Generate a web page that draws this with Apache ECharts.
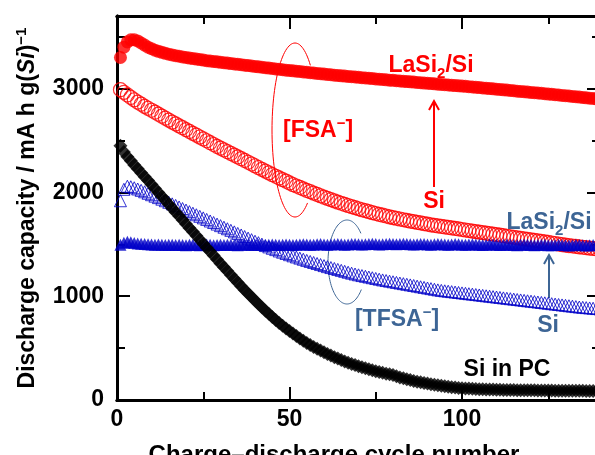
<!DOCTYPE html>
<html>
<head>
<meta charset="utf-8">
<script src="https://cdn.jsdelivr.net/npm/echarts@6/dist/echarts.min.js"></script>
<style>
  html, body { margin: 0; padding: 0; background: #fff; }
  #main { width: 595px; height: 455px; }
</style>
</head>
<body>
<div id="main"></div>
<script>
// capacity per cycle (cycle 1 .. 140), mA h g(Si)^-1
var lasiFSA = [
  3300, 3400, 3450, 3470, 3470, 3460, 3440, 3420, 3400, 3385,
  3370, 3360, 3350, 3340, 3332, 3325, 3318, 3312, 3306, 3300,
  3295, 3290, 3285, 3280, 3275, 3270, 3266, 3262, 3258, 3254,
  3250, 3246, 3242, 3238, 3234, 3230, 3226, 3222, 3218, 3214,
  3210, 3206, 3202, 3198, 3194, 3190, 3186, 3182, 3178, 3175,
  3172, 3168, 3165, 3161, 3158, 3154, 3151, 3147, 3144, 3140,
  3137, 3134, 3130, 3127, 3124, 3121, 3118, 3115, 3112, 3109,
  3106, 3103, 3100, 3097, 3094, 3091, 3088, 3085, 3082, 3080,
  3077, 3074, 3071, 3068, 3066, 3063, 3060, 3057, 3054, 3052,
  3049, 3046, 3043, 3041, 3038, 3035, 3032, 3030, 3027, 3025,
  3022, 3019, 3016, 3013, 3010, 3007, 3004, 3001, 2998, 2995,
  2992, 2989, 2986, 2983, 2980, 2976, 2973, 2970, 2967, 2964,
  2961, 2958, 2955, 2951, 2948, 2945, 2942, 2939, 2935, 2932,
  2929, 2925, 2922, 2919, 2915, 2912, 2908, 2905, 2901, 2898
];
var siFSA = [
  2990, 2965, 2940, 2915, 2893, 2871, 2850, 2830, 2811, 2792,
  2773, 2754, 2735, 2716, 2697, 2678, 2660, 2642, 2624, 2606,
  2588, 2570, 2552, 2534, 2516, 2498, 2480, 2462, 2444, 2427,
  2410, 2393, 2376, 2359, 2342, 2325, 2308, 2291, 2274, 2257,
  2240, 2223, 2206, 2189, 2172, 2156, 2140, 2124, 2108, 2092,
  2076, 2062, 2048, 2034, 2020, 2007, 1994, 1981, 1968, 1955,
  1943, 1931, 1919, 1907, 1896, 1885, 1874, 1863, 1853, 1843,
  1833, 1824, 1815, 1806, 1797, 1789, 1781, 1773, 1765, 1758,
  1751, 1744, 1737, 1730, 1724, 1718, 1712, 1706, 1700, 1694,
  1688, 1683, 1678, 1673, 1668, 1663, 1658, 1653, 1648, 1643,
  1638, 1633, 1628, 1623, 1618, 1613, 1608, 1603, 1598, 1593,
  1588, 1583, 1578, 1573, 1568, 1563, 1558, 1553, 1548, 1543,
  1538, 1533, 1528, 1523, 1518, 1513, 1508, 1503, 1498, 1493,
  1488, 1484, 1480, 1476, 1472, 1468, 1464, 1460, 1456, 1452
];
var lasiTFSA = [
  1495, 1515, 1525, 1520, 1512, 1508, 1505, 1503, 1500, 1498,
  1497, 1499, 1496, 1494, 1497, 1495, 1493, 1496, 1494, 1492,
  1495, 1497, 1493, 1491, 1494, 1498, 1495, 1492, 1494, 1496,
  1493, 1495, 1497, 1494, 1492, 1495, 1498, 1496, 1493, 1495,
  1497, 1494, 1492, 1496, 1499, 1497, 1494, 1496, 1498, 1495,
  1493, 1496, 1499, 1501, 1498, 1495, 1497, 1500, 1502, 1499,
  1496, 1498, 1501, 1503, 1500, 1497, 1499, 1502, 1504, 1501,
  1498, 1500, 1503, 1505, 1502, 1499, 1501, 1504, 1506, 1503,
  1500, 1502, 1505, 1503, 1500, 1498, 1501, 1504, 1502, 1499,
  1497, 1500, 1503, 1501, 1498, 1496, 1499, 1502, 1500, 1497,
  1495, 1498, 1501, 1499, 1496, 1494, 1497, 1500, 1498, 1495,
  1493, 1496, 1499, 1497, 1494, 1492, 1495, 1498, 1496, 1493,
  1491, 1494, 1497, 1495, 1492, 1490, 1493, 1496, 1494, 1491,
  1489, 1492, 1495, 1493, 1490, 1488, 1491, 1494, 1492, 1489
];
var siTFSA = [
  1920, 2030, 2060, 2055, 2045, 2033, 2020, 2006, 1992, 1978,
  1964, 1950, 1935, 1920, 1905, 1890, 1875, 1860, 1845, 1830,
  1815, 1800, 1785, 1770, 1755, 1740, 1725, 1710, 1695, 1680,
  1665, 1650, 1635, 1620, 1605, 1590, 1575, 1560, 1545, 1530,
  1516, 1502, 1488, 1475, 1462, 1449, 1436, 1424, 1412, 1400,
  1389, 1378, 1367, 1356, 1345, 1335, 1325, 1315, 1305, 1295,
  1285, 1276, 1267, 1258, 1249, 1240, 1231, 1222, 1214, 1206,
  1199, 1192, 1185, 1178, 1171, 1164, 1157, 1151, 1145, 1139,
  1133, 1127, 1121, 1115, 1109, 1103, 1097, 1091, 1085, 1079,
  1073, 1067, 1061, 1056, 1052, 1048, 1044, 1040, 1036, 1032,
  1028, 1024, 1020, 1016, 1012, 1008, 1004, 1000, 996, 992,
  988, 984, 980, 976, 972, 968, 964, 960, 956, 952,
  948, 944, 940, 936, 932, 928, 924, 920, 916, 912,
  908, 904, 900, 896, 893, 890, 887, 884, 881, 878
];
var siPC = [
  2450, 2390, 2345, 2305, 2265, 2228, 2190, 2152, 2114, 2076,
  2038, 2000, 1962, 1924, 1886, 1848, 1810, 1772, 1734, 1696,
  1658, 1620, 1582, 1544, 1506, 1468, 1430, 1392, 1354, 1316,
  1279, 1242, 1205, 1168, 1132, 1096, 1061, 1026, 992, 958,
  925, 893, 861, 830, 800, 771, 743, 716, 690, 665,
  640, 616, 593, 571, 550, 530, 511, 493, 476, 459,
  443, 428, 413, 399, 385, 372, 360, 348, 337, 326,
  316, 306, 296, 287, 278, 270, 262, 254, 247, 240,
  228, 218, 209, 200, 192, 184, 177, 170, 164, 158,
  152, 147, 142, 137, 132, 128, 124, 120, 116, 113,
  112, 110, 108, 106, 104, 103, 102, 101, 100, 99,
  98, 97, 97, 96, 96, 95, 95, 94, 94, 93,
  93, 92, 92, 91, 91, 91, 90, 90, 90, 89,
  89, 89, 88, 88, 88, 87, 87, 87, 86, 86
];

var xMax = 140;
var yMax = 3700;
var yTickLabels = [0, 1000, 2000, 3000];

var FONT = '"Liberation Sans", Arial, sans-serif';
var RED = '#ff0000';
var BLUE = '#0000c8';
var NOTE_BLUE = '#3d6595';

function pairs(arr) {
  return arr.map(function (v, i) { return [i + 1, v]; });
}

// open arc for the grouping ellipses (annotation, pixel space)
function arcPoints(cx, cy, rx, ry, a0, a1) {
  var pts = [];
  for (var a = a0; a <= a1; a += 3) {
    var t = a * Math.PI / 180;
    pts.push([cx + rx * Math.cos(t), cy + ry * Math.sin(t)]);
  }
  return pts;
}

function arrow(x, y1, y2, color) {
  return [
    { type: 'line', shape: { x1: x, y1: y1, x2: x, y2: y2 }, style: { stroke: color, lineWidth: 2 } },
    { type: 'polyline', shape: { points: [[x - 5, y2 + 9], [x, y2], [x + 5, y2 + 9]] }, style: { stroke: color, lineWidth: 2, fill: null } }
  ];
}

function note(x, y, text, color, align) {
  return {
    type: 'text', x: x, y: y,
    style: {
      text: text, fill: color, align: align || 'center', verticalAlign: 'middle',
      fontSize: 23, fontWeight: 'bold', fontFamily: FONT,
      rich: {
        a: { fontSize: 23, fontWeight: 'bold', fontFamily: FONT, fill: color, lineHeight: 24 },
        sub: { fontSize: 15, fontWeight: 'bold', fontFamily: FONT, fill: color, lineHeight: 15, padding: [16, 0, 0, 0] },
        sup: { fontSize: 15, fontWeight: 'bold', fontFamily: FONT, fill: color, lineHeight: 15, padding: [0, 0, 14, 0] }
      }
    }
  };
}

function xAx(pos, interval, len, labels) {
  return {
    type: 'value', position: pos, min: 0, max: xMax, interval: interval,
    axisLine: { show: true, onZero: false, lineStyle: { color: '#000', width: 3 } },
    axisTick: { inside: true, length: len, lineStyle: { color: '#000', width: 2 } },
    axisLabel: labels ? {
      show: true, color: '#000', fontSize: 23, fontWeight: 'bold', fontFamily: FONT, margin: 8,
      formatter: function (v) { return v % 50 === 0 && v < xMax ? v : ''; }
    } : { show: false },
    splitLine: { show: false }
  };
}

function yAx(pos, interval, len, labels) {
  return {
    type: 'value', position: pos, min: 0, max: yMax, interval: interval,
    axisLine: { show: true, onZero: false, lineStyle: { color: '#000', width: 3 } },
    axisTick: { inside: true, length: len, lineStyle: { color: '#000', width: 2 } },
    axisLabel: labels ? {
      show: true, color: '#000', fontSize: 23, fontWeight: 'bold', fontFamily: FONT, margin: 13,
      formatter: function (v) { return yTickLabels.indexOf(v) >= 0 ? v : ''; }
    } : { show: false },
    splitLine: { show: false }
  };
}

var myChart = echarts.init(document.getElementById('main'), null, { renderer: 'canvas' });

var xMain = xAx('bottom', 50, 13, true);
xMain.name = 'Charge\u2013discharge cycle number';
xMain.nameLocation = 'middle';
xMain.nameGap = 43;
xMain.nameTextStyle = { color: '#000', fontSize: 24, fontWeight: 'bold', fontFamily: FONT, padding: [0, 49, 0, 0] };

var yMain = yAx('left', 1000, 13, true);
yMain.name = '{a|Discharge capacity / mA h g(}{it|Si}{a|)}{sup|\u22121}';
yMain.nameLocation = 'middle';
yMain.nameRotate = 90;
yMain.nameGap = 75;
yMain.nameTextStyle = {
  color: '#000', fontSize: 23, fontWeight: 'bold', fontFamily: FONT,
  rich: {
    a: { color: '#000', fontSize: 23, fontWeight: 'bold', fontFamily: FONT, lineHeight: 24 },
    it: { color: '#000', fontSize: 23, fontWeight: 'bold', fontStyle: 'italic', fontFamily: FONT, lineHeight: 24 },
    sup: { color: '#000', fontSize: 15, fontWeight: 'bold', fontFamily: FONT, lineHeight: 15, padding: [0, 0, 13, 0] }
  }
};

var graphics = [
  { type: 'polyline', shape: { points: arcPoints(295, 130, 23, 87, 57, 312) }, style: { stroke: RED, lineWidth: 1, fill: null } },
  { type: 'polyline', shape: { points: arcPoints(347, 262, 19, 42, 41, 318) }, style: { stroke: NOTE_BLUE, lineWidth: 1, fill: null } },
  note(431, 66, '{a|LaSi}{sub|2}{a|/Si}', RED),
  note(434, 202, '{a|Si}', RED),
  note(283, 131, '{a|[FSA}{sup|\u2212}{a|]}', RED, 'left'),
  note(549, 223, '{a|LaSi}{sub|2}{a|/Si}', NOTE_BLUE),
  note(548, 326, '{a|Si}', NOTE_BLUE),
  note(397, 320, '{a|[TFSA}{sup|\u2212}{a|]}', NOTE_BLUE),
  note(507, 370, '{a|Si in PC}', '#000')
].concat(arrow(434, 187, 101, RED)).concat(arrow(549, 298, 255, NOTE_BLUE));

var option = {
  animation: false,
  backgroundColor: '#fff',
  grid: { left: 117, top: 16, width: 483, height: 384, outerBoundsMode: 'none', containLabel: false },
  xAxis: [xMain, xAx('bottom', 25, 8, false), xAx('top', 50, 13, false), xAx('top', 25, 8, false)],
  yAxis: [yMain, yAx('left', 500, 8, false), yAx('right', 1000, 13, false), yAx('right', 500, 8, false)],
  series: [
    {
      name: 'Si [FSA]', type: 'scatter', data: pairs(siFSA),
      symbol: 'circle', symbolSize: 14,
      itemStyle: { color: 'transparent', borderColor: RED, borderWidth: 1.2 }
    },
    {
      name: 'Si [TFSA]', type: 'scatter', data: pairs(siTFSA),
      symbol: 'triangle', symbolSize: 12,
      itemStyle: { color: 'transparent', borderColor: BLUE, borderWidth: 1 }
    },
    {
      name: 'LaSi2/Si [TFSA]', type: 'scatter', data: pairs(lasiTFSA),
      symbol: 'triangle', symbolSize: 12,
      itemStyle: { color: BLUE }
    },
    {
      name: 'Si in PC', type: 'scatter', data: pairs(siPC),
      symbol: 'diamond', symbolSize: 14,
      itemStyle: { color: '#000' }
    },
    {
      name: 'LaSi2/Si [FSA]', type: 'scatter', data: pairs(lasiFSA),
      symbol: 'circle', symbolSize: 13,
      itemStyle: { color: RED }
    }
  ],
  graphic: graphics
};
myChart.setOption(option);
</script>
</body>
</html>
